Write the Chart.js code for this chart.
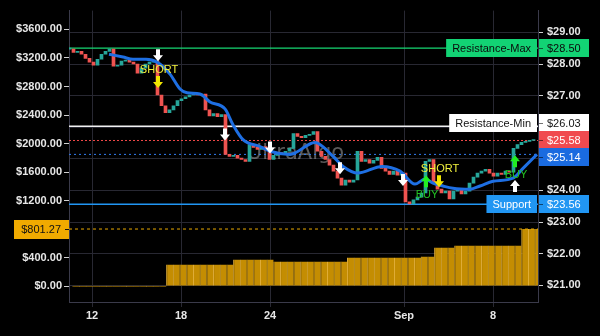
<!DOCTYPE html>
<html><head><meta charset="utf-8">
<script src="https://cdn.jsdelivr.net/npm/chart.js@4/dist/chart.umd.min.js"></script>
<style>html,body{margin:0;padding:0;background:#000;}#wrap{width:600px;height:336px;}</style>
</head><body><div id="wrap"><canvas id="c" width="600" height="336"></canvas></div>
<script>
// ---- data ----
const candleCloses = [
 28.47, 28.37, 28.40, 28.31, 28.18, 28.06, 27.96, 28.15, 28.31, 28.40,
 28.47, 27.93, 27.96, 28.09, 28.12, 28.06, 28.00, 27.71, 27.87, 28.00,
 28.06, 28.09, 27.02, 26.68, 26.46, 26.55, 26.68, 26.84, 26.90, 26.96,
 27.02, 27.05, 27.02, 27.05, 26.55, 26.36, 26.43, 26.33, 26.40, 25.14,
 25.08, 25.11, 25.02, 24.98, 24.92, 25.45, 25.36, 25.30, 25.39, 25.27,
 24.98, 25.11, 25.20, 25.14, 25.24, 25.33, 25.80, 25.71, 25.67, 25.74,
 25.77, 25.86, 25.24, 25.08, 24.98, 24.80, 24.61, 24.39, 24.17, 24.33,
 24.26, 24.33, 25.24, 24.92, 24.98, 24.86, 24.95, 25.05, 24.70, 24.61,
 24.51, 24.61, 24.48, 24.55, 23.64, 23.57, 23.70, 23.79, 23.92, 24.92,
 24.98, 24.23, 24.04, 23.92, 23.98, 23.73, 23.98, 24.04, 23.89, 23.98,
 24.23, 24.42, 24.55, 24.61, 24.67, 24.55, 24.45, 24.55, 24.51, 24.61,
 24.58, 25.33, 25.45, 25.52, 25.55, 25.58, 25.58
];
const maIndex = [9.5, 13, 15.5, 18.75, 21.5, 24.75, 27.25, 29, 32.25, 34.75, 38.5, 40.5, 43, 47.25, 49.75, 54.75, 61, 65.5, 68, 71.75, 77.75, 82.25, 86, 88.5, 90.5, 93, 95.5, 99.75, 102.25, 105.5, 110.5, 113, 116.5];
const maValues = [28.31, 28.22, 28.15, 28.15, 28.06, 27.68, 27.21, 27.09, 27.05, 26.80, 26.58, 26.08, 25.61, 25.39, 25.24, 25.14, 25.52, 25.08, 24.76, 24.55, 24.76, 24.61, 24.20, 24.36, 24.23, 24.14, 24.07, 24.04, 24.14, 24.29, 24.39, 24.70, 25.14];
const volumeSteps = [
 0,0,0,0,0,0,0,0,0,0,0,0,0,0,
 305,305,305,305,305,305,305,305,305,305,
 375,375,375,375,375,375,
 347,347,347,347,347,347,347,347,347,347,347,
 403,403,403,403,403,403,403,403,403,403,403,
 417,417,
 542,542,542,
 570,570,570,570,570,570,570,570,570,570,
 801.27,801.27,801.27
];
const xTickPositions = [5.25, 27.5, 49.75, 83.25, 105.5];
const xTickLabels = ['12', '18', '24', 'Sep', '8'];
const leftTicks = [0, 400, 800, 1200, 1600, 2000, 2400, 2800, 3200, 3600];
const rightTicks = [21, 22, 23, 24, 25, 26, 27, 28, 29];
const resistanceMax = 28.50;
const resistanceMin = 26.03;
const lastPrice = 25.58;
const maLast = 25.14;
const supportLevel = 23.56;
const volumeLevel = 801.27;
const signalIndex = [21.75, 38.5, 49.75, 67.25, 83, 21.75, 92, 88.75, 111, 111];
const signalValue = [28.28, 25.77, 25.36, 24.70, 24.33, 27.43, 24.29, 24.29, 24.92, 24.14];
const signalKind = ['exit-down','exit-down','exit-down','exit-down','exit-down','short','short','buy','buy','exit-up'];

// ---- build ----
const X_MIN = -0.5, X_MAX = 116.75;
const candleOpens = candleCloses.map((c, i) => i === 0 ? c : candleCloses[i - 1]);
const candleData = candleCloses.map((c, i) => ({ x: i, y: [candleOpens[i], c] }));
const candleColors = candleCloses.map((c, i) => c >= candleOpens[i] ? '#26a69a' : '#ef5350');
const hLine = (v, color, dash, width, yAxis) => ({
  type: 'line', data: [{ x: X_MIN, y: v }, { x: X_MAX, y: v }], borderColor: color,
  borderDash: dash, borderWidth: width, pointRadius: 0, yAxisID: yAxis, xAxisID: 'x', order: 5
});
const FONT = '"Liberation Sans", Arial, sans-serif';
const GRID = '#282832';
const AXIS = '#3a3a4a';

const watermark = {
  id: 'watermark',
  beforeDatasetsDraw(chart) {
    const ctx = chart.ctx;
    ctx.save();
    ctx.font = '21px "DejaVu Sans", sans-serif';
    ctx.fillStyle = 'rgba(150,150,150,0.6)';
    ctx.textAlign = 'center';
    ctx.textBaseline = 'middle';
    const a = chart.chartArea;
    ctx.fillText('UltraAlgo', a.left + (a.right - a.left) * 0.483, a.top + (a.bottom - a.top) * 0.49);
    ctx.restore();
  }
};

function arrow(ctx, cx, cy, dir, color) {
  ctx.fillStyle = color;
  ctx.beginPath();
  ctx.moveTo(cx - 2, cy - 6 * dir);
  ctx.lineTo(cx + 2, cy - 6 * dir);
  ctx.lineTo(cx + 2, cy);
  ctx.lineTo(cx + 5, cy);
  ctx.lineTo(cx, cy + 6 * dir);
  ctx.lineTo(cx - 5, cy);
  ctx.lineTo(cx - 2, cy);
  ctx.closePath();
  ctx.fill();
}

const signals = {
  id: 'signals',
  afterDatasetsDraw(chart) {
    const ctx = chart.ctx, xs = chart.scales.x, ys = chart.scales.yR;
    ctx.save();
    ctx.textAlign = 'center';
    ctx.textBaseline = 'middle';
    ctx.font = '11px "Liberation Sans Narrow", "Liberation Sans", sans-serif';
    signalKind.forEach((k, i) => {
      const px = xs.getPixelForValue(signalIndex[i]);
      const py = ys.getPixelForValue(signalValue[i]);
      if (k === 'exit-down') arrow(ctx, px, py, 1, '#ffffff');
      else if (k === 'exit-up') arrow(ctx, px, py, -1, '#ffffff');
      else if (k === 'short') {
        arrow(ctx, px, py, 1, '#f2e600');
        ctx.fillStyle = '#f0f03c';
        ctx.fillText('SHORT', px + 1, py - 12);
      } else if (k === 'buy') {
        arrow(ctx, px, py, -1, '#22ee22');
        ctx.fillStyle = '#22c022';
        ctx.fillText('BUY', px + 1, py + 14);
      }
    });
    ctx.restore();
  }
};

const boxes = {
  id: 'boxes',
  afterDraw(chart) {
    const ctx = chart.ctx, a = chart.chartArea, yR = chart.scales.yR, yL = chart.scales.yL;
    const H = 18, SP = 17;
    const items = [
      { v: resistanceMax, fill: '#12d374', tc: '#0b0b0b', label: 'Resistance-Max' },
      { v: resistanceMin, fill: '#ffffff', tc: '#111111', label: 'Resistance-Min' },
      { v: lastPrice, fill: '#f04a4f', tc: '#ffffff' },
      { v: maLast, fill: '#1a6be0', tc: '#ffffff' },
      { v: supportLevel, fill: '#2196f3', tc: '#ffffff', label: 'Support' }
    ].map(it => Object.assign(it, { ideal: yR.getPixelForValue(it.v) }));
    items.sort((p, q) => p.ideal - q.ideal);
    const groups = [];
    items.forEach(it => {
      const g = groups[groups.length - 1];
      if (g && it.ideal - g[g.length - 1].ideal < SP) g.push(it); else groups.push([it]);
    });
    groups.forEach(g => {
      const mean = g.reduce((s, it) => s + it.ideal, 0) / g.length;
      g.forEach((it, k) => { it.c = mean - (g.length - 1) * SP / 2 + k * SP; });
    });
    ctx.save();
    ctx.font = '11px ' + FONT;
    ctx.textBaseline = 'middle';
    items.forEach(it => {
      const top = Math.round(it.c - H / 2);
      ctx.fillStyle = it.fill;
      ctx.fillRect(a.right + 1, top, 50, H);
      ctx.fillStyle = it.tc;
      ctx.textAlign = 'left';
      ctx.fillText('$' + it.v.toFixed(2), a.right + 9, it.c + 0.5);
      ctx.fillStyle = 'rgba(0,0,0,0.55)';
      ctx.fillRect(a.right + 1, Math.round(it.c), 4, 1);
      if (it.label) {
        const tw = ctx.measureText(it.label).width;
        const w = tw + 12;
        ctx.fillStyle = it.fill;
        ctx.fillRect(a.right - 1 - w, top, w, H);
        ctx.fillStyle = it.tc;
        ctx.textAlign = 'center';
        ctx.fillText(it.label, a.right - 1 - w / 2, it.c + 0.5);
      }
    });
    // left volume level box
    const ly = yL.getPixelForValue(volumeLevel);
    ctx.fillStyle = '#f0aa00';
    ctx.fillRect(14, Math.round(ly - 9.5), a.left - 14, 19);
    ctx.fillStyle = '#111111';
    ctx.textAlign = 'right';
    ctx.fillText('$' + volumeLevel.toFixed(2), a.left - 8, ly + 0.5);
    ctx.fillRect(a.left - 4, Math.round(ly), 4, 1);
    ctx.restore();
  }
};

const volumeBarWidth = c => {
  const a = c.chart.chartArea;
  return (a ? (a.right - a.left) / volumeSteps.length : 6.7) + 0.3;
};

new Chart(document.getElementById('c'), {
  type: 'bar',
  data: {
    datasets: [
      {
        type: 'line', data: maIndex.map((x, i) => ({ x, y: maValues[i] })),
        borderColor: '#1e6fe3', borderWidth: 3, pointRadius: 0, cubicInterpolationMode: 'monotone',
        yAxisID: 'yR', xAxisID: 'x', order: 1
      },
      {
        type: 'bar', data: candleData, backgroundColor: candleColors, borderWidth: 0, stack: 'one',
        barThickness: 3, minBarLength: 1, yAxisID: 'yR', xAxisID: 'x', order: 3
      },
      hLine(resistanceMax, '#16d873', [], 1.2, 'yR'),
      hLine(resistanceMin, '#f2f2f2', [], 1.5, 'yR'),
      hLine(lastPrice, '#f04848', [2, 2], 1, 'yR'),
      hLine(maLast, '#2f7cf0', [2, 3], 1, 'yR'),
      hLine(supportLevel, '#2196f3', [], 1.5, 'yR'),
      hLine(volumeLevel, '#e8a800', [3, 3], 1, 'yL'),
      {
        type: 'bar', data: volumeSteps.map((v, i) => ({ x: i, y: v })), stack: 'one',
        backgroundColor: '#c48d02', borderColor: '#eeb83e',
        borderWidth: { left: 1, right: 0, top: 0, bottom: 0 }, borderSkipped: false,
        barThickness: volumeBarWidth, minBarLength: 1, inflateAmount: 0,
        yAxisID: 'yL', xAxisID: 'x2', order: 10
      }
    ]
  },
  options: {
    responsive: false, devicePixelRatio: 1, animation: false,
    layout: { padding: { top: 8, left: 0, right: 0, bottom: 0 } },
    plugins: { legend: { display: false }, tooltip: { enabled: false } },
    scales: {
      x: {
        type: 'linear', min: X_MIN, max: X_MAX, position: 'bottom', offset: false,
        afterBuildTicks: s => { s.ticks = xTickPositions.map(v => ({ value: v })); },
        afterFit: s => { s.height = 34; },
        ticks: { callback: (v, i) => xTickLabels[i], color: '#e6e6e6', autoSkip: false, maxRotation: 0, padding: 2,
          font: { family: FONT, size: 11, weight: 'bold' } },
        grid: { color: GRID, tickColor: GRID, tickLength: 5, offset: false },
        border: { color: AXIS }
      },
      x2: {
        type: 'linear', min: -0.5, max: 69.5, display: false, offset: false, grid: { offset: false },
        afterBuildTicks: s => { s.ticks = [{ value: 0 }]; }
      },
      yL: {
        type: 'linear', position: 'left', min: -222, max: 3864,
        afterBuildTicks: s => { s.ticks = leftTicks.map(v => ({ value: v })); },
        afterFit: s => { s.width = 69; },
        ticks: { callback: v => '$' + Number(v).toFixed(2), color: '#e6e6e6', padding: 2,
          font: { family: FONT, size: 11, weight: 'bold' } },
        grid: { drawOnChartArea: false, tickColor: '#d0d0d0', tickLength: 5 },
        border: { color: AXIS }
      },
      yR: {
        type: 'linear', position: 'right', min: 20.47, max: 29.69,
        afterBuildTicks: s => { s.ticks = rightTicks.map(v => ({ value: v })); },
        afterFit: s => { s.width = 62; },
        ticks: { callback: v => '$' + Number(v).toFixed(2), color: '#e6e6e6', padding: 4,
          font: { family: FONT, size: 11, weight: 'bold' } },
        grid: { color: GRID, tickColor: '#d0d0d0', tickLength: 5 },
        border: { color: AXIS }
      }
    }
  },
  plugins: [watermark, signals, boxes]
});
</script>
</body></html>
